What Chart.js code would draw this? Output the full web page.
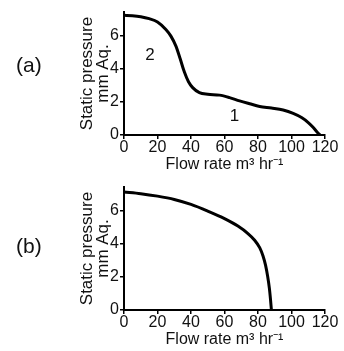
<!DOCTYPE html>
<html>
<head>
<meta charset="utf-8">
<script src="https://cdn.jsdelivr.net/npm/chart.js@4/dist/chart.umd.min.js"></script>
<style>
	body { margin: 0; background: #fff; }
	.wrap { position: relative; width: 344px; height: 351px; }
	.panel { position: absolute; left: 0; width: 344px; height: 175px; }
	.tag { position: absolute; left: 16px; font: 21px 'Liberation Sans', Arial, sans-serif; color: #111; }
</style>
</head>
<body>
<div class="wrap">
	<div class="panel" style="top:0"><canvas id="chartA" width="344" height="175"></canvas></div>
	<div class="panel" style="top:175px"><canvas id="chartB" width="344" height="175"></canvas></div>
	<div class="tag" style="top:53px">(a)</div>
	<div class="tag" style="top:234px">(b)</div>
</div>
<script>
const xTicks = [0, 20, 40, 60, 80, 100, 120];
const yTicks = [0, 2, 4, 6];

// panel (a): fan curve with two regions
const flowA = [0, 5, 10, 15, 20, 25, 28, 31, 33.5, 36, 38.5, 41, 45, 50, 57, 63, 69, 75, 81, 88, 95, 101, 106, 110, 113, 115.5, 117];
const pressA = [7.2, 7.18, 7.12, 7.0, 6.8, 6.35, 5.95, 5.35, 4.6, 3.8, 3.2, 2.85, 2.55, 2.45, 2.4, 2.25, 2.05, 1.88, 1.72, 1.62, 1.5, 1.3, 1.05, 0.75, 0.45, 0.15, 0];
const regionText = ['2', '1'];
const regionX = [15.5, 66];
const regionY = [4.8, 1.1];

// panel (b)
const flowB = [0, 10, 20, 30, 40, 50, 60, 68, 74, 78, 81, 83, 84.5, 85.8, 86.8, 87.5, 88];
const pressB = [7.1, 7.0, 6.85, 6.65, 6.35, 5.95, 5.5, 5.05, 4.6, 4.2, 3.75, 3.25, 2.7, 2.0, 1.3, 0.6, 0];

const font = 'Liberation Sans, Arial, sans-serif';

const regionLabels = {
	id: 'regionLabels',
	afterDatasetsDraw(chart, args, opts) {
		if (!opts.text) return;
		const {ctx, scales: {x, y}} = chart;
		ctx.save();
		ctx.font = `17px ${font}`;
		ctx.fillStyle = '#111';
		ctx.textAlign = 'center';
		ctx.textBaseline = 'middle';
		opts.text.forEach((t, i) => ctx.fillText(t, x.getPixelForValue(opts.xs[i]), y.getPixelForValue(opts.ys[i])));
		ctx.restore();
	}
};

const makeChart = (id, xs, ys, labels) => {
	const config = {
		type: 'scatter',
		data: {
			datasets: [{
				data: xs.map((v, i) => ({x: v, y: ys[i]})),
				showLine: true,
				borderColor: '#000',
				borderWidth: 3,
				pointRadius: 0,
				tension: 0.4,
				cubicInterpolationMode: 'monotone',
				clip: false
			}]
		},
		options: {
			responsive: false,
			animation: false,
			layout: {padding: {top: 12, right: 19, left: 0, bottom: 0}},
			plugins: {
				legend: {display: false},
				tooltip: {enabled: false},
				regionLabels: labels || {}
			},
			scales: {
				x: {
					type: 'linear',
					min: 0,
					max: 120,
					afterBuildTicks: s => { s.ticks = xTicks.map(v => ({value: v})); },
					afterFit: s => { s.height = 40; },
					border: {color: '#000', width: 2},
					grid: {drawOnChartArea: false, color: '#000', tickLength: 4, lineWidth: 1.5},
					ticks: {color: '#111', padding: -1, maxRotation: 0, font: {family: font, size: 16}},
					title: {
						display: true,
						text: 'Flow rate m³ hr⁻¹',
						color: '#111',
						padding: {top: 0, bottom: 1},
						font: {family: font, size: 16}
					}
				},
				y: {
					min: 0,
					max: 7.4,
					afterBuildTicks: s => { s.ticks = yTicks.map(v => ({value: v})); },
					afterFit: s => { s.width = 124; },
					border: {color: '#000', width: 2},
					grid: {drawOnChartArea: false, color: '#000', tickLength: 4, lineWidth: 1.5},
					ticks: {color: '#111', padding: 1, font: {family: font, size: 16}},
					title: {
						display: true,
						text: ['Static pressure', 'mm Aq.'],
						color: '#111',
						padding: {top: 79, bottom: 0},
						font: {family: font, size: 17, lineHeight: 0.95}
					}
				}
			}
		},
		plugins: [regionLabels]
	};
	return new Chart(document.getElementById(id), config);
};

makeChart('chartA', flowA, pressA, {text: regionText, xs: regionX, ys: regionY});
makeChart('chartB', flowB, pressB);
</script>
</body>
</html>
